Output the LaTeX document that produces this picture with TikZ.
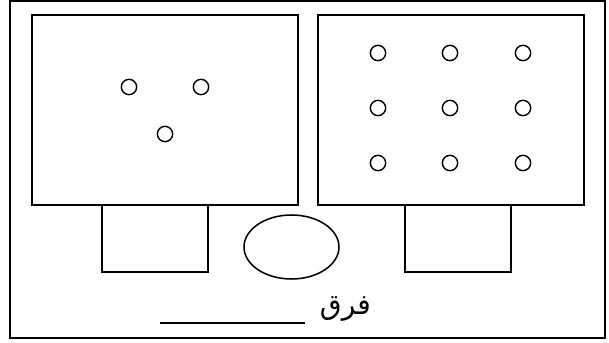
\documentclass[tikz,border=0pt]{standalone}
\usepackage{fontspec}
\newfontfamily\arabicfont[Script=Arabic]{DejaVu Sans}
\TeXXeTstate=1
\usetikzlibrary{positioning}

\begin{document}
\begin{tikzpicture}[
        x=0.03cm, y=-0.03cm,
        frame/.style={draw, line width=1.6pt},
        panel/.style={draw, line width=1.3pt},
        dot/.style={circle, draw, line width=1.2pt, minimum size=0.46cm, inner sep=0pt}
    ]
        \useasboundingbox (0,0) rectangle (609,343);
        \draw [frame] (10,1) rectangle (605,338);

        % two trays with their feet
        \draw [panel] (32,15) rectangle (298,205);
        \draw [panel] (318,15) rectangle (584,205);
        \draw [panel] (102,205) rectangle (208,272);
        \draw [panel] (405,205) rectangle (511,272);
        \draw [panel] (291.5,247) ellipse [x radius=47.5, y radius=32];

        % left tray: three
        \node [dot] (l1) at (129,87) {};
        \node [dot] (l2) at (201,87) {};
        \node [dot] (l3) at (165,134) {};

        % right tray: nine
        \foreach \i/\xx in {1/378, 2/450, 3/523}
            \foreach \j/\yy in {1/53, 2/108, 3/163}
                \node [dot] (r\i\j) at (\xx,\yy) {};

        \node [font=\arabicfont\fontsize{24}{28}\selectfont, inner sep=0pt, anchor=east] (word) at (371,309) {\beginR فرق\endR};
        \coordinate (blankend) at (160,323);
        \coordinate (blankstart) at (305,323);
        \draw [line width=1.5pt] (blankend) -- (blankstart);
\end{tikzpicture}
\end{document}
